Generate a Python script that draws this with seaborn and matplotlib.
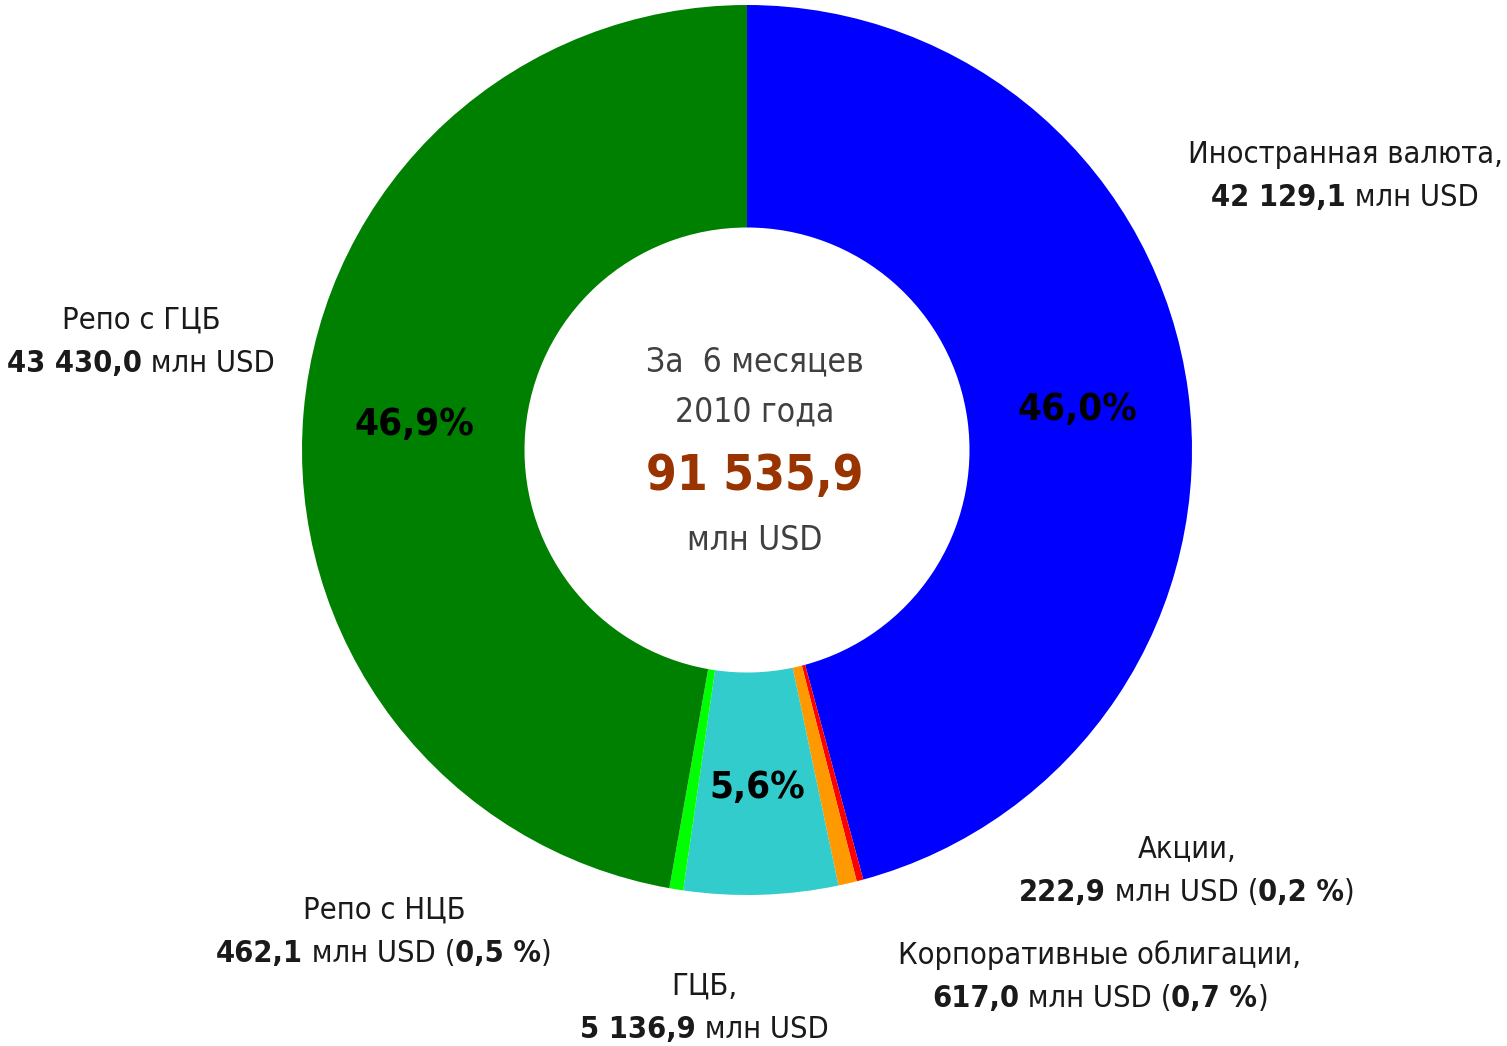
import numpy as np
import matplotlib
matplotlib.use("Agg")
import matplotlib.pyplot as plt
import seaborn as sns
from matplotlib.offsetbox import TextArea, HPacker, VPacker, AnnotationBbox
from matplotlib import font_manager

sns.set_theme(style="white")

# choose the narrowest available sans family
entries = font_manager.fontManager.ttflist
names = {f.name for f in entries}
STRETCH = "normal"
if "Liberation Sans Narrow" in names:
    FONT = "Liberation Sans Narrow"
elif any(f.name == "DejaVu Sans" and str(f.stretch) in ("condensed", "semi-condensed", "500", "600")
         for f in entries):
    FONT, STRETCH = "DejaVu Sans", "condensed"
elif "Roboto" in names:
    FONT = "Roboto"
else:
    FONT = "Liberation Sans"
plt.rcParams["font.family"] = [FONT, "DejaVu Sans"]
plt.rcParams["font.stretch"] = STRETCH

# ---------------- data ----------------
categories = ["Иностранная валюта", "Акции", "Корпоративные облигации",
              "ГЦБ", "Репо с НЦБ", "Репо с ГЦБ"]
values = [42129.1, 222.9, 617.0, 5136.9, 462.1, 43430.0]
value_labels = ["42 129,1", "222,9", "617,0", "5 136,9", "462,1", "43 430,0"]
share_labels = ["", "0,2 %", "0,7 %", "", "0,5 %", ""]
inner_pct = ["46,0%", "", "", "5,6%", "", "46,9%"]
colors = ["#0000FF", "#FF0000", "#FF9900", "#33CCCC", "#00FF00", "#008000"]
center_lines = ["За  6 месяцев", "2010 года", "91 535,9", "млн USD"]

W, H = 1507, 1046
fig = plt.figure(figsize=(W / 100, H / 100), dpi=100)
ax = fig.add_axes([0, 0, 1, 1])
renderer = fig.canvas.get_renderer()


def fit_size(text, target_px, weight, maxsize):
    t = fig.text(0, 0, text, fontsize=10, fontweight=weight,
                 family=[FONT, "DejaVu Sans"], fontstretch=STRETCH)
    w = t.get_window_extent(renderer).width
    t.remove()
    return min(maxsize, 10 * target_px / w)


cx, cy, R = 747, H - 450, 445
wedges, _ = ax.pie(values, colors=colors, startangle=90, counterclock=False,
                   center=(cx, cy), radius=R, frame=True,
                   wedgeprops=dict(width=R * 0.5, linewidth=0))
ax.set_xlim(0, W)
ax.set_ylim(0, H)
ax.set_aspect("equal")
ax.axis("off")

# percentage labels inside ring
PCT = fit_size("46,0%", 120, "bold", 33)
for w, lab in zip(wedges, inner_pct):
    if not lab:
        continue
    ang = np.deg2rad((w.theta1 + w.theta2) / 2)
    r = R * 0.75
    ax.text(cx + r * np.cos(ang), cy + r * np.sin(ang) - 4, lab, ha="center",
            va="center", fontsize=PCT, fontweight="bold", color="black")

# centre text
ctext_y = [362, 412, 476, 540]
small_c = fit_size("За  6 месяцев", 236, "normal", 24)
big_c = fit_size("91 535,9", 218, "bold", 43)
csizes = [small_c, small_c, big_c, small_c]
cweights = ["normal", "normal", "bold", "normal"]
ccolors = ["#404040", "#404040", "#993300", "#404040"]
for t, y, s, wgt, c in zip(center_lines, ctext_y, csizes, cweights, ccolors):
    ax.text(755, H - y, t, ha="center", va="center", fontsize=s,
            fontweight=wgt, color=c)

# outer labels
label_pos = [(1345, 176), (1187, 871), (1100, 977), (704, 1008), (384, 932), (141, 342)]
LBL = fit_size("Иностранная валюта,", 316, "normal", 24)
TC = "#1a1a1a"


def ta(s, bold=False):
    return TextArea(s, textprops=dict(fontsize=LBL, color=TC,
                                      fontweight="bold" if bold else "normal",
                                      family=[FONT, "DejaVu Sans"],
                                      fontstretch=STRETCH))


gap = max(2, 50 - LBL * 100 / 72 * 1.17)
for i, (name, (x, y)) in enumerate(zip(categories, label_pos)):
    first = name if name in ("Репо с ГЦБ", "Репо с НЦБ") else name + ","
    line1 = HPacker(children=[ta(first)], pad=0, sep=0)
    parts = [ta(value_labels[i], True), ta(" млн USD")]
    if share_labels[i]:
        parts += [ta(" ("), ta(share_labels[i], True), ta(")")]
    line2 = HPacker(children=parts, pad=0, sep=0, align="baseline")
    box = VPacker(children=[line1, line2], pad=0, sep=gap * 72 / 100, align="center")
    ab = AnnotationBbox(box, (x, H - y), xycoords="data", frameon=False,
                        box_alignment=(0.5, 0.5), pad=0)
    ax.add_artist(ab)

fig.savefig("out.png", dpi=100, facecolor="white")
